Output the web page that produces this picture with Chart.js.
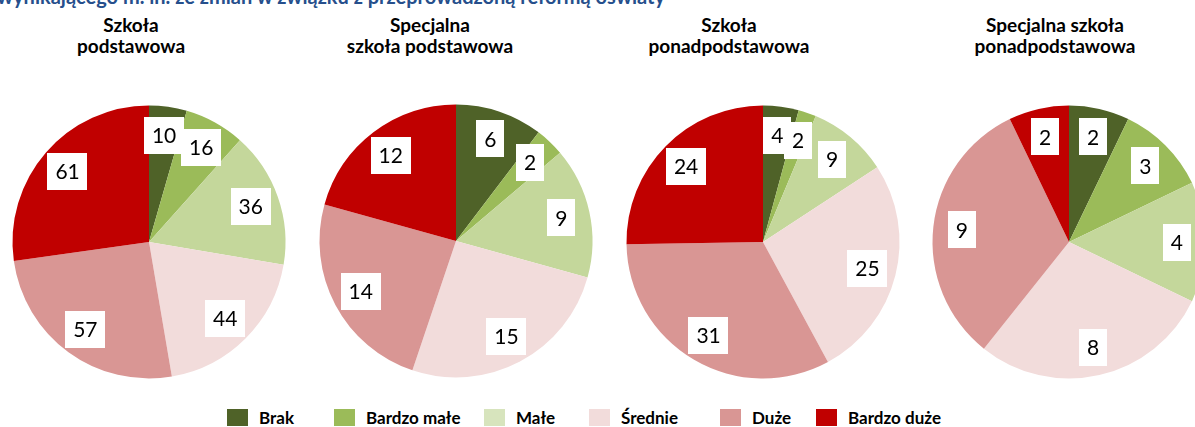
<!DOCTYPE html>
<html lang="pl">
<head>
<meta charset="utf-8">
<title>Wykresy kołowe - szkoły</title>
<script src="https://cdn.jsdelivr.net/npm/chart.js@4/dist/chart.umd.min.js"></script>
<style>
  html, body { margin: 0; padding: 0; background: #fff; }
  body { width: 1195px; height: 427px; position: relative; overflow: hidden; font-family: Lato, 'Open Sans', sans-serif; }
  .top-title { position: absolute; left: -3px; top: -16px; white-space: nowrap; font-weight: bold; font-size: 20px; line-height: 24px; color: #264f8c; }
  .pie-title { position: absolute; top: 14px; width: 260px; text-align: center; font-weight: bold; font-size: 19px; line-height: 21px; color: #000; }
  .pie-box { position: absolute; width: 300px; height: 300px; }
  .legend-item { position: absolute; top: 407px; height: 20px; display: flex; align-items: center; }
  .legend-item span.sw { display: inline-block; width: 21px; height: 17px; margin-right: 11px; }
  .legend-item span.lb { font-weight: bold; font-size: 17px; color: #000; }
</style>
</head>
<body>
<div class="top-title" id="topTitle"></div>
<div id="titles"></div>
<div id="pies"></div>
<div id="legend"></div>

<script>
// Dane wykresów
const categories = ['Brak', 'Bardzo małe', 'Małe', 'Średnie', 'Duże', 'Bardzo duże'];
const schoolTitles = [
  ['Szkoła', 'podstawowa'],
  ['Specjalna', 'szkoła podstawowa'],
  ['Szkoła', 'ponadpodstawowa'],
  ['Specjalna szkoła', 'ponadpodstawowa']
];
const szkolaPodstawowa = [10, 16, 36, 44, 57, 61];
const specjalnaPodstawowa = [6, 2, 9, 15, 14, 12];
const szkolaPonadpodstawowa = [4, 2, 9, 25, 31, 24];
const specjalnaPonadpodstawowa = [2, 3, 4, 8, 9, 2];
const seriesList = [szkolaPodstawowa, specjalnaPodstawowa, szkolaPonadpodstawowa, specjalnaPonadpodstawowa];

const headerText = 'wynikającego m. in. ze zmian w związku z przeprowadzoną reformą oświaty';

// Kolory i układ
const sliceColors = ['#4f6228', '#9bbb59', '#c4d79b', '#f2dcdb', '#d99694', '#c00000'];
const legendColors = ['#4f6228', '#9bbb59', '#d7e4bd', '#f2dcdb', '#d99694', '#c00000'];
const pieCenters = [[148.5, 241.5], [455.5, 241], [763, 242], [1069, 242]];
const pieRadius = 136.5;
const titleCentersX = [131, 430, 729, 1055];
const legendX = [227, 334, 484, 589, 720, 816];

document.getElementById('topTitle').textContent = headerText;

// Tytuły nad wykresami
const titlesEl = document.getElementById('titles');
schoolTitles.forEach((lines, i) => {
  const d = document.createElement('div');
  d.className = 'pie-title';
  d.style.left = (titleCentersX[i] - 130) + 'px';
  d.innerHTML = lines.join('<br>');
  titlesEl.appendChild(d);
});

// Legenda
const legendEl = document.getElementById('legend');
categories.forEach((c, i) => {
  const d = document.createElement('div');
  d.className = 'legend-item';
  d.style.left = legendX[i] + 'px';
  d.innerHTML = '<span class="sw" style="background:' + legendColors[i] + '"></span><span class="lb">' + c + '</span>';
  legendEl.appendChild(d);
});

// Etykiety danych w białych ramkach
const boxLabels = {
  id: 'boxLabels',
  afterDatasetsDraw(chart) {
    const ctx = chart.ctx;
    const meta = chart.getDatasetMeta(0);
    const values = chart.data.datasets[0].data;
    ctx.save();
    ctx.font = '21px Lato, "Open Sans", sans-serif';
    ctx.textAlign = 'center';
    ctx.textBaseline = 'middle';
    meta.data.forEach((arc, i) => {
      const p = arc.getProps(['x', 'y', 'startAngle', 'endAngle', 'outerRadius'], true);
      const mid = (p.startAngle + p.endAngle) / 2;
      const r = p.outerRadius * 0.79;
      const x = p.x + Math.cos(mid) * r;
      const y = p.y + Math.sin(mid) * r;
      const txt = String(values[i]);
      const w = ctx.measureText(txt).width + 16;
      const h = 37;
      ctx.fillStyle = '#ffffff';
      ctx.fillRect(Math.round(x - w / 2), Math.round(y - h / 2), Math.round(w), h);
      ctx.fillStyle = '#000000';
      ctx.fillText(txt, x, y + 1);
    });
    ctx.restore();
  }
};

const piesEl = document.getElementById('pies');
seriesList.forEach((series, i) => {
  const box = document.createElement('div');
  box.className = 'pie-box';
  box.style.left = (pieCenters[i][0] - 150) + 'px';
  box.style.top = (pieCenters[i][1] - 150) + 'px';
  const canvas = document.createElement('canvas');
  canvas.width = 300;
  canvas.height = 300;
  box.appendChild(canvas);
  piesEl.appendChild(box);

  new Chart(canvas.getContext('2d'), {
    type: 'pie',
    data: {
      labels: categories,
      datasets: [{
        data: series,
        backgroundColor: sliceColors,
        borderWidth: 0
      }]
    },
    options: {
      responsive: false,
      animation: false,
      devicePixelRatio: 1,
      radius: pieRadius,
      layout: { padding: 0 },
      plugins: {
        legend: { display: false },
        tooltip: { enabled: false }
      }
    },
    plugins: [boxLabels]
  });
});
</script>
</body>
</html>
